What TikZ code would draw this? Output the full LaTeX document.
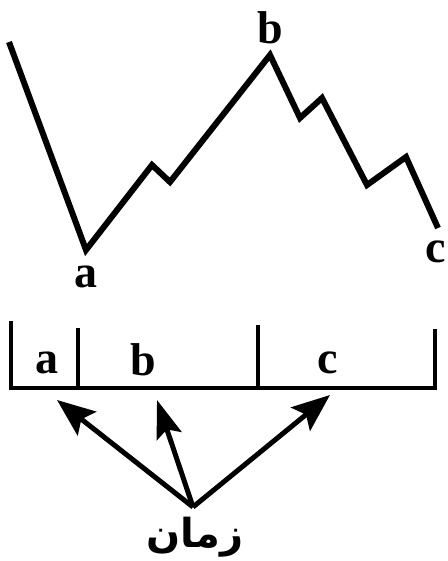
\documentclass[tikz,border=0pt]{standalone}
\usepackage{fontspec}
\setmainfont{Liberation Serif}
\newfontfamily\arabicfont[Script=Arabic]{DejaVu Sans}
\TeXXeTstate=1
\usetikzlibrary{arrows.meta,positioning}

\begin{document}
\begin{tikzpicture}[x=1pt,y=-1pt, every node/.style={font=\bfseries\fontsize{46}{46}\selectfont, inner sep=0pt}]
\useasboundingbox (0,0) rectangle (447,561);

% price path
\coordinate (start) at (9,42);
\coordinate (ptA) at (86,250);
\coordinate (w1) at (152,165);
\coordinate (w2) at (170,182);
\coordinate (ptB) at (270,55);
\coordinate (w3) at (300,118);
\coordinate (w4) at (322,98);
\coordinate (w5) at (367,185);
\coordinate (w6) at (406,157);
\coordinate (ptC) at (438,228);
\draw [line width=6pt] (start) -- (ptA) -- (w1) -- (w2) -- (ptB) -- (w3) -- (w4) -- (w5) -- (w6) -- (ptC);

\node (la) at (86,277) {a};
\node (lb) at (270,28) {b};
\node (lc) at (436,252) {c};

% time bar
\coordinate (barL) at (11,388);
\coordinate (barR) at (435,388);
\draw [line width=4.5pt] (11,321) -- (barL) -- (barR) -- (435,329);
\draw [line width=4.5pt] (78,328) -- (78,388);
\draw [line width=4.5pt] (258,325) -- (258,388);

\node (ta) at (47,363) {a};
\node (tb) at (143,360) {b};
\node (tc) at (328,363) {c};

% time label
\node (zaman) at (195,537) {\arabicfont\fontsize{40}{40}\selectfont\beginR زمان\endR};
\coordinate (hub) at (193,507);
\coordinate (tipa) at (57,400);
\coordinate (tipb) at (157,400);
\coordinate (tipc) at (330,395);
\draw [line width=5pt, -{Stealth[length=38pt,width=30pt,inset=7pt]}] (hub) -- (tipa);
\draw [line width=5pt, -{Stealth[length=38pt,width=26pt,inset=7pt]}] (hub) -- (tipb);
\draw [line width=5pt, -{Stealth[length=38pt,width=30pt,inset=7pt]}] (hub) -- (tipc);

\end{tikzpicture}
\end{document}
